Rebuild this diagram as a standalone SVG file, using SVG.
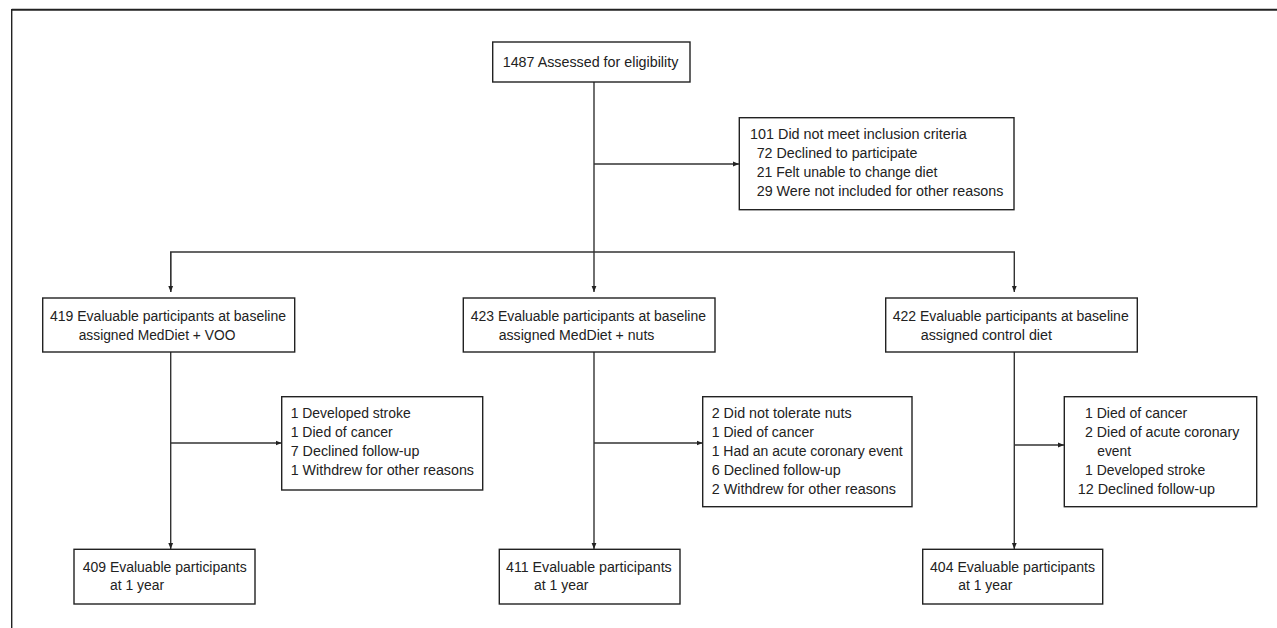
<svg xmlns="http://www.w3.org/2000/svg" width="1277" height="628" viewBox="0 0 1277 628">
<style>
  .box { fill: #fff; stroke: #222; stroke-width: 1.4; }
  .t { font-family: "Liberation Sans", Arial, sans-serif; font-size: 15.5px; fill: #222; }
  .c { fill: none; stroke: #333; stroke-width: 1.4; }
</style>
<defs>
  <marker id="ah" viewBox="0 0 10 10" refX="10" refY="5" markerWidth="6" markerHeight="6" markerUnits="userSpaceOnUse" orient="auto">
    <path d="M0,1 L10,5 L0,9 z" fill="#222"/>
  </marker>
</defs>
<rect x="0" y="0" width="1277" height="628" fill="#fff"/>
<g id="frame">
  <line x1="11.7" y1="9.7" x2="1277" y2="9.7" stroke="#222" stroke-width="2"/>
  <line x1="11.7" y1="9" x2="11.7" y2="628" stroke="#222" stroke-width="1.4"/>
</g>
<g id="connectors">
  <path class="c" d="M594,82 V292" marker-end="url(#ah)"/>
  <path class="c" d="M594,164 H739" marker-end="url(#ah)"/>
  <path class="c" d="M170.7,292 V252 H1014.3 V292" marker-end="url(#ah)"/>
  <path class="c" d="M170.7,252 V292" marker-end="url(#ah)"/>
  <path class="c" d="M170.7,352 V549" marker-end="url(#ah)"/>
  <path class="c" d="M170.7,443 H281.5" marker-end="url(#ah)"/>
  <path class="c" d="M594,352 V549" marker-end="url(#ah)"/>
  <path class="c" d="M594,443 H702.5" marker-end="url(#ah)"/>
  <path class="c" d="M1014.3,352 V549" marker-end="url(#ah)"/>
  <path class="c" d="M1014.3,445 H1064" marker-end="url(#ah)"/>
</g>
<g id="n-assessed">
  <rect class="box" x="492.7" y="42" width="197.3" height="40"/>
  <text class="t" x="502.7" y="67" textLength="175.6" lengthAdjust="spacingAndGlyphs">1487 Assessed for eligibility</text>
</g>
<g id="n-excluded">
  <rect class="box" x="739.3" y="117.7" width="274.7" height="92"/>
  <text class="t" x="750" y="139" textLength="216.7" lengthAdjust="spacingAndGlyphs">101 Did not meet inclusion criteria</text>
  <text class="t" x="756.7" y="158" textLength="160.7" lengthAdjust="spacingAndGlyphs">72 Declined to participate</text>
  <text class="t" x="756.7" y="177" textLength="180.7" lengthAdjust="spacingAndGlyphs">21 Felt unable to change diet</text>
  <text class="t" x="756.7" y="196" textLength="246.7" lengthAdjust="spacingAndGlyphs">29 Were not included for other reasons</text>
</g>
<g id="n-voo">
  <rect class="box" x="42.7" y="298" width="252" height="54"/>
  <text class="t" x="50" y="321" textLength="236" lengthAdjust="spacingAndGlyphs">419 Evaluable participants at baseline</text>
  <text class="t" x="78.7" y="340" textLength="156.7" lengthAdjust="spacingAndGlyphs">assigned MedDiet + VOO</text>
</g>
<g id="n-nuts">
  <rect class="box" x="463.3" y="298" width="251.7" height="54"/>
  <text class="t" x="470.7" y="321" textLength="235.3" lengthAdjust="spacingAndGlyphs">423 Evaluable participants at baseline</text>
  <text class="t" x="498.7" y="340" textLength="155.7" lengthAdjust="spacingAndGlyphs">assigned MedDiet + nuts</text>
</g>
<g id="n-control">
  <rect class="box" x="885.7" y="298" width="251.6" height="54"/>
  <text class="t" x="892.7" y="321" textLength="236" lengthAdjust="spacingAndGlyphs">422 Evaluable participants at baseline</text>
  <text class="t" x="920.7" y="340" textLength="131.3" lengthAdjust="spacingAndGlyphs">assigned control diet</text>
</g>
<g id="n-voo-lost">
  <rect class="box" x="281.7" y="396.7" width="201" height="93.3"/>
  <text class="t" x="290.7" y="418" textLength="120" lengthAdjust="spacingAndGlyphs">1 Developed stroke</text>
  <text class="t" x="290.7" y="437" textLength="102" lengthAdjust="spacingAndGlyphs">1 Died of cancer</text>
  <text class="t" x="290.7" y="456" textLength="128.7" lengthAdjust="spacingAndGlyphs">7 Declined follow-up</text>
  <text class="t" x="290.7" y="475" textLength="183.3" lengthAdjust="spacingAndGlyphs">1 Withdrew for other reasons</text>
</g>
<g id="n-nuts-lost">
  <rect class="box" x="702.7" y="396.7" width="209.3" height="110"/>
  <text class="t" x="711.7" y="418" textLength="140" lengthAdjust="spacingAndGlyphs">2 Did not tolerate nuts</text>
  <text class="t" x="711.7" y="437" textLength="102.3" lengthAdjust="spacingAndGlyphs">1 Died of cancer</text>
  <text class="t" x="711.7" y="456" textLength="191" lengthAdjust="spacingAndGlyphs">1 Had an acute coronary event</text>
  <text class="t" x="711.7" y="475" textLength="129" lengthAdjust="spacingAndGlyphs">6 Declined follow-up</text>
  <text class="t" x="711.7" y="494" textLength="184.3" lengthAdjust="spacingAndGlyphs">2 Withdrew for other reasons</text>
</g>
<g id="n-control-lost">
  <rect class="box" x="1064.3" y="396.7" width="192.4" height="110"/>
  <text class="t" x="1085" y="418" textLength="102.3" lengthAdjust="spacingAndGlyphs">1 Died of cancer</text>
  <text class="t" x="1085" y="437" textLength="154.3" lengthAdjust="spacingAndGlyphs">2 Died of acute coronary</text>
  <text class="t" x="1097.3" y="456" textLength="33.7" lengthAdjust="spacingAndGlyphs">event</text>
  <text class="t" x="1085" y="475" textLength="120.3" lengthAdjust="spacingAndGlyphs">1 Developed stroke</text>
  <text class="t" x="1077.7" y="494" textLength="137.3" lengthAdjust="spacingAndGlyphs">12 Declined follow-up</text>
</g>
<g id="n-voo-1y">
  <rect class="box" x="74" y="549.3" width="181" height="54.7"/>
  <text class="t" x="82.7" y="571.5" textLength="164" lengthAdjust="spacingAndGlyphs">409 Evaluable participants</text>
  <text class="t" x="110" y="590" textLength="54" lengthAdjust="spacingAndGlyphs">at 1 year</text>
</g>
<g id="n-nuts-1y">
  <rect class="box" x="499.3" y="549.3" width="180.7" height="54.7"/>
  <text class="t" x="506" y="571.5" textLength="165.7" lengthAdjust="spacingAndGlyphs">411 Evaluable participants</text>
  <text class="t" x="534" y="590" textLength="54.3" lengthAdjust="spacingAndGlyphs">at 1 year</text>
</g>
<g id="n-control-1y">
  <rect class="box" x="922.7" y="549.3" width="180" height="54.7"/>
  <text class="t" x="930" y="571.5" textLength="165" lengthAdjust="spacingAndGlyphs">404 Evaluable participants</text>
  <text class="t" x="958.3" y="590" textLength="54" lengthAdjust="spacingAndGlyphs">at 1 year</text>
</g>
</svg>
